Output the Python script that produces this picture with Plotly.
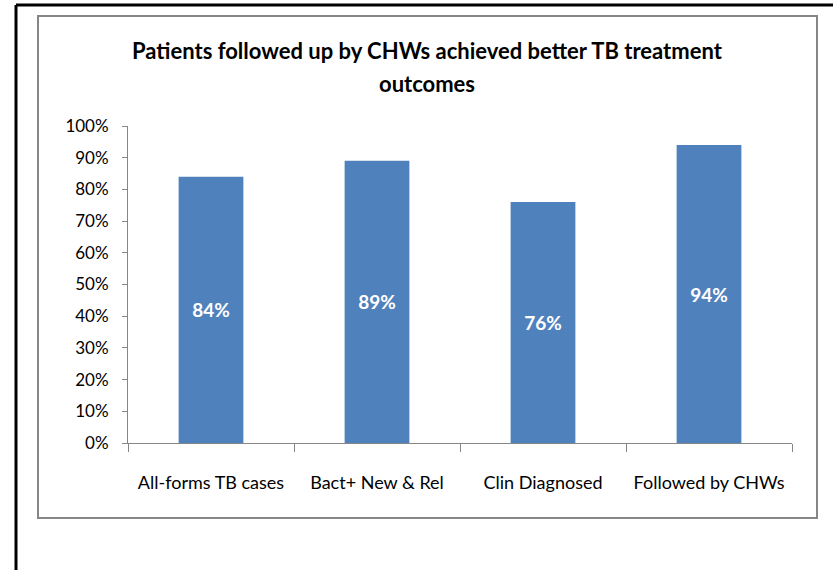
import plotly.graph_objects as go

categories = ["All-forms TB cases", "Bact+ New & Rel", "Clin Diagnosed", "Followed by CHWs"]
success_rate = [0.84, 0.89, 0.76, 0.94]
bar_labels = ["84%", "89%", "76%", "94%"]

title_line1 = "Patients followed up by CHWs achieved better TB treatment"
title_line2 = "outcomes"

FONT = "Lato, Carlito, Calibri, sans-serif"
AXIS_GREY = "#868686"


def main():
    fig = go.Figure()
    fig.add_trace(go.Bar(
        x=categories,
        y=success_rate,
        text=bar_labels,
        textposition="inside",
        insidetextanchor="middle",
        textfont=dict(family=FONT, size=19, color="white", weight="bold"),
        marker=dict(color="#4F81BD", line=dict(width=0)),
        width=0.39,
        hoverinfo="skip",
    ))

    # plot area: x 128..792, y 126..443 in pixels
    w, h = 664, 317

    def px(x):
        return (x - 128) / w

    def py(y):
        return (443 - y) / h

    # chart box (grey) and the outer black frame
    fig.add_shape(type="rect", xref="paper", yref="paper",
                  x0=px(38), x1=px(817), y0=py(518), y1=py(16),
                  line=dict(color=AXIS_GREY, width=2), layer="below")
    fig.add_shape(type="line", xref="paper", yref="paper",
                  x0=px(16), x1=px(833), y0=py(5), y1=py(5),
                  line=dict(color="black", width=3))
    fig.add_shape(type="line", xref="paper", yref="paper",
                  x0=px(16), x1=px(16), y0=py(5), y1=py(575),
                  line=dict(color="black", width=3))

    for txt, ypix in [(title_line1, 51), (title_line2, 84)]:
        fig.add_annotation(text=txt, xref="paper", yref="paper",
                           x=px(427), y=py(ypix), xanchor="center", yanchor="middle",
                           showarrow=False,
                           font=dict(family=FONT, size=22, color="black", weight="bold"))

    fig.update_layout(
        width=835, height=570,
        margin=dict(l=128, r=43, t=126, b=127),
        paper_bgcolor="white", plot_bgcolor="white",
        showlegend=False,
        font=dict(family=FONT, size=17, color="black"),
    )
    fig.update_yaxes(
        range=[0, 1], dtick=0.1, tickformat=".0%",
        showgrid=False, zeroline=False,
        showline=True, linecolor=AXIS_GREY, linewidth=1,
        ticks="outside", ticklen=5, tickcolor=AXIS_GREY,
        ticklabelstandoff=10,
        tickfont=dict(family=FONT, size=17, color="black"),
    )
    fig.update_xaxes(
        showgrid=False, showline=True, linecolor=AXIS_GREY, linewidth=1,
        ticks="outside", tickson="boundaries", ticklen=8, tickcolor=AXIS_GREY,
        ticklabelstandoff=23,
        tickfont=dict(family=FONT, size=18, color="black"),
    )
    fig.write_html("out.html", config={"displayModeBar": False},
                   post_script="document.body.style.margin='0';")


if __name__ == "__main__":
    main()
